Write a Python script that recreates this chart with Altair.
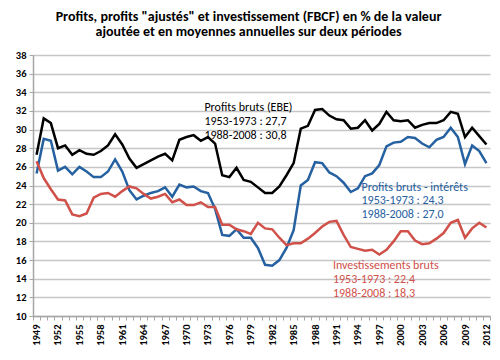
import altair as alt
import pandas as pd

years = list(range(1949, 2013))

profits_ebe = [27.3, 31.2, 30.7, 28.0, 28.3, 27.3, 27.8, 27.4, 27.3, 27.7,
               28.3, 29.5, 28.4, 26.9, 25.9, 26.3, 26.7, 27.1, 27.4, 26.7,
               28.9, 29.2, 29.4, 28.8, 29.2, 28.5, 25.1, 24.9, 25.9, 24.6,
               24.4, 23.8, 23.2, 23.2, 23.9, 25.1, 26.4, 30.1, 30.4, 32.1,
               32.2, 31.5, 31.1, 31.0, 30.1, 30.2, 31.0, 29.9, 30.6, 31.9,
               31.0, 30.9, 31.0, 30.2, 30.5, 30.7, 30.7, 31.0, 31.9, 31.7,
               29.2, 30.2, 29.3, 28.4]

profits_interets = [25.3, 29.0, 28.8, 25.6, 26.0, 25.2, 26.0, 25.5, 24.9, 24.9,
                    25.5, 26.8, 25.5, 23.5, 22.5, 22.9, 23.2, 23.4, 23.8, 22.8,
                    24.1, 23.8, 23.9, 23.4, 23.2, 21.5, 18.7, 18.6, 19.3, 18.4,
                    18.4, 17.3, 15.5, 15.4, 16.0, 17.3, 19.2, 24.0, 24.6, 26.5,
                    26.4, 25.4, 25.0, 24.3, 23.3, 23.7, 25.0, 25.3, 26.2, 28.2,
                    28.6, 28.7, 29.2, 29.1, 28.5, 28.1, 28.9, 29.2, 30.2, 29.2,
                    26.3, 28.3, 27.7, 26.4]

investissements = [26.6, 24.8, 23.6, 22.5, 22.4, 20.9, 20.7, 21.0, 22.7, 23.1,
                   23.2, 22.8, 23.4, 23.9, 23.7, 23.1, 22.6, 22.8, 23.1, 22.2,
                   22.5, 21.9, 21.9, 22.2, 21.7, 21.7, 19.8, 19.8, 19.3, 19.1,
                   18.8, 20.0, 19.4, 19.3, 18.4, 17.6, 17.8, 17.8, 18.3, 18.9,
                   19.6, 20.1, 20.2, 18.7, 17.4, 17.2, 17.0, 17.1, 16.6, 17.1,
                   18.0, 19.1, 19.1, 18.1, 17.7, 17.8, 18.3, 18.9, 20.0, 20.3,
                   18.4, 19.4, 20.0, 19.5]

y_ticks = list(range(10, 39, 2))

series_names = ["Profits bruts (EBE)", "Profits bruts - intérêts", "Investissements bruts"]
series_colors = ["#000000", "#2560a0", "#d0504a"]

ann_text = ["Profits bruts (EBE)", "1953-1973 : 27,7", "1988-2008 : 30,8",
            "Profits bruts - intérêts", "1953-1973 : 24,3", "1988-2008 : 27,0",
            "Investissements bruts", "1953-1973 : 22,4", "1988-2008 : 18,3"]
ann_year = [1973, 1973, 1973, 1995, 1995, 1995, 1991, 1991, 1991]
ann_value = [32.45, 30.95, 29.42, 23.87, 22.44, 20.91, 15.47, 13.97, 12.43]
ann_series = [series_names[0]] * 3 + [series_names[1]] * 3 + [series_names[2]] * 3

rows = []
for name, vals in zip(series_names, [profits_ebe, profits_interets, investissements]):
    for y, v in zip(years, vals):
        rows.append({"year": y, "value": v, "series": name})
df = pd.DataFrame(rows)
ann = pd.DataFrame({"year": ann_year, "value": ann_value, "text": ann_text, "series": ann_series})

FONT = "Carlito, Lato, sans-serif"

xscale = alt.Scale(type="band", domain=years, paddingInner=0, paddingOuter=0)
yscale = alt.Scale(domain=[10, 38], nice=False)
color = alt.Color("series:N", scale=alt.Scale(domain=series_names, range=series_colors), legend=None)

x_axis = alt.Axis(title=None, labelAngle=270, tickBand="extent", grid=False,
                  labelExpr="(toNumber(datum.value) - 1949) % 3 == 0 ? datum.label : ''",
                  labelOverlap=False, labelFont=FONT, labelFontSize=10.5,
                  labelFontWeight="bold", labelColor="#000000",
                  domainColor="#a6a6a6", domainWidth=1.5, tickColor="#a6a6a6",
                  tickSize=4, labelPadding=4)
y_axis = alt.Axis(title=None, values=y_ticks, tickCount=len(y_ticks), grid=True,
                  gridColor="#c6c6c6", gridWidth=1.5, labelFont=FONT,
                  labelFontSize=10.5, labelFontWeight="bold", labelColor="#000000",
                  labelOverlap=False,
                  domainColor="#a6a6a6", domainWidth=1.5, tickColor="#a6a6a6",
                  tickSize=4, labelPadding=3)

lines = alt.Chart(df).mark_line(strokeWidth=2.5).encode(
    x=alt.X("year:O", scale=xscale, bandPosition=0.5, axis=x_axis),
    y=alt.Y("value:Q", scale=yscale, axis=y_axis),
    color=color,
)

labels = alt.Chart(ann).mark_text(align="left", baseline="middle", font=FONT,
                                   fontSize=12).encode(
    x=alt.X("year:O", scale=xscale, bandPosition=0, axis=x_axis),
    y=alt.Y("value:Q", scale=yscale, axis=y_axis),
    text="text:N",
    color=color,
)

chart = alt.layer(lines, labels).properties(
    width=457, height=261,
    title=alt.TitleParams(
        ["Profits, profits \"ajustés\" et investissement (FBCF) en % de la valeur",
         "ajoutée et en moyennes annuelles sur deux périodes"],
        font=FONT, fontSize=14, fontWeight="bold", color="#000000",
        anchor="middle", dx=-13, offset=11, lineHeight=15.5),
    autosize=alt.AutoSizeParams(type="none"),
    padding={"left": 25, "top": 47, "right": 2, "bottom": 36},
).configure_view(stroke=None)

chart.save("out.html", embed_options={"renderer": "svg", "actions": False})
